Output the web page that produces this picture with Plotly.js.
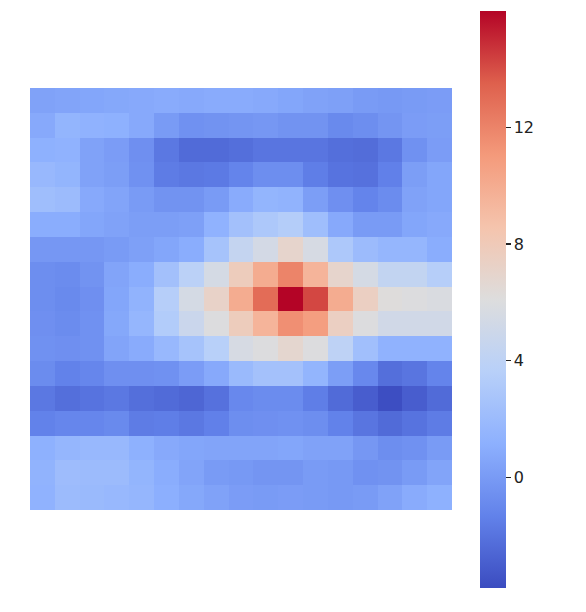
<!DOCTYPE html>
<html>
<head>
<meta charset="utf-8">
<script src="https://cdn.plot.ly/plotly-3.0.1.min.js"></script>
<style>
  body { margin: 0; background: #fff; }
  #chart { width: 586px; height: 612px; }
</style>
</head>
<body>
<div id="chart"></div>
<script>
// grid values, row 0 is the top row
const row0  = [0.4, 0.5, 0.6, 0.7, 0.8, 0.9, 0.8, 0.9, 0.9, 0.8, 0.6, 0.4, 0.3, 0.0, -0.1, 0.0, 0.1];
const row1  = [0.8, 1.5, 1.3, 1.2, 0.8, 0.0, -0.5, -0.4, -0.3, -0.2, -0.4, -0.4, -0.9, -0.7, -0.3, 0.1, 0.2];
const row2  = [1.2, 1.3, 0.4, 0.1, -0.6, -1.8, -2.4, -2.4, -2.2, -1.9, -1.9, -1.9, -2.2, -2.3, -1.8, -0.5, 0.1];
const row3  = [1.8, 1.5, 0.4, 0.2, -0.5, -1.6, -1.8, -1.7, -1.2, -0.7, -0.7, -1.5, -2.0, -2.1, -1.4, 0.2, 0.6];
const row4  = [2.2, 2.0, 0.8, 0.5, 0.0, -0.4, -0.4, 0.0, 0.9, 1.5, 1.4, 0.2, -0.6, -1.2, -0.8, 0.4, 0.6];
const row5  = [1.0, 1.0, 0.6, 0.4, 0.2, 0.2, 0.3, 1.3, 2.4, 3.0, 3.4, 2.2, 0.8, 0.0, 0.0, 0.6, 0.8];
const row6  = [-0.2, -0.2, -0.2, 0.0, 0.3, 0.6, 1.0, 2.6, 4.4, 5.4, 7.0, 5.6, 3.0, 2.0, 1.6, 1.6, 1.0];
const row7  = [-0.7, -0.8, -0.4, 0.5, 1.0, 2.4, 3.8, 5.5, 7.8, 10.0, 12.0, 9.5, 7.0, 5.5, 4.3, 4.3, 3.5];
const row8  = [-0.7, -0.9, -0.6, 0.6, 1.4, 3.5, 5.5, 7.2, 10.0, 13.0, 16.0, 14.2, 10.0, 7.5, 6.2, 6.0, 5.8];
const row9  = [-0.6, -0.8, -0.5, 0.7, 1.6, 3.3, 4.8, 6.0, 7.8, 9.5, 11.5, 10.8, 7.5, 6.0, 5.2, 5.2, 5.2];
const row10 = [-0.5, -0.6, -0.5, 0.5, 0.9, 1.8, 2.6, 3.6, 5.6, 6.0, 6.8, 6.0, 4.0, 2.3, 1.3, 1.3, 1.3];
const row11 = [-0.8, -1.3, -1.1, -0.6, -0.6, -0.5, 0.1, 0.8, 1.9, 2.5, 2.5, 1.5, 0.2, -1.0, -2.2, -1.9, -1.2];
const row12 = [-1.8, -2.2, -2.0, -1.8, -2.2, -2.4, -2.6, -2.1, -1.0, -0.8, -0.8, -1.5, -2.4, -3.0, -3.7, -3.0, -2.4];
const row13 = [-1.3, -1.1, -1.1, -0.9, -1.6, -1.5, -1.8, -1.4, -0.7, -0.6, -0.5, -0.7, -1.3, -1.9, -2.4, -2.0, -1.6];
const row14 = [1.2, 1.6, 1.8, 1.8, 1.2, 0.8, 0.6, 0.5, 0.5, 0.5, 0.6, 0.4, 0.4, -0.2, -0.7, -0.5, 0.0];
const row15 = [1.4, 2.1, 2.0, 2.0, 1.5, 1.0, 0.5, 0.0, -0.1, -0.3, -0.3, 0.0, -0.1, -0.5, -0.4, 0.0, 0.5];
const row16 = [1.3, 2.0, 1.9, 1.8, 1.6, 1.1, 0.7, 0.4, 0.1, 0.0, 0.1, 0.0, -0.1, 0.0, 0.4, 0.9, 1.2];

const grid = [row0, row1, row2, row3, row4, row5, row6, row7, row8, row9,
              row10, row11, row12, row13, row14, row15, row16];
const cbTicks = [0, 4, 8, 12];

// matplotlib coolwarm
const coolwarm = [
  [0.0, 'rgb(59,76,192)'],
  [0.125, 'rgb(98,130,234)'],
  [0.25, 'rgb(141,176,254)'],
  [0.375, 'rgb(184,208,249)'],
  [0.5, 'rgb(221,221,221)'],
  [0.625, 'rgb(245,196,173)'],
  [0.75, 'rgb(244,154,123)'],
  [0.875, 'rgb(222,96,77)'],
  [1.0, 'rgb(180,4,38)']
];

const data = [{
  type: 'heatmap',
  z: grid,
  colorscale: coolwarm,
  zmin: -3.8,
  zmax: 16,
  colorbar: {
    x: 1.066, xanchor: 'left', xpad: 0,
    y: 0.499, yanchor: 'middle', ypad: 0,
    thickness: 26, thicknessmode: 'pixels',
    len: 577, lenmode: 'pixels',
    outlinewidth: 0,
    tickvals: cbTicks,
    ticks: 'outside', ticklen: 5, tickwidth: 1.2, tickcolor: '#222',
    tickfont: { family: 'DejaVu Sans', size: 16, color: '#222' }
  }
}];

const layout = {
  width: 586, height: 612,
  margin: { l: 30, r: 134, t: 88, b: 102 },
  paper_bgcolor: '#fff', plot_bgcolor: '#fff',
  xaxis: { range: [-0.5, 16.5], showticklabels: false, showgrid: false, zeroline: false, ticks: '' },
  yaxis: { range: [16.5, -0.5], showticklabels: false, showgrid: false, zeroline: false, ticks: '' }
};

Plotly.newPlot('chart', data, layout, { displayModeBar: false, staticPlot: true });
</script>
</body>
</html>
